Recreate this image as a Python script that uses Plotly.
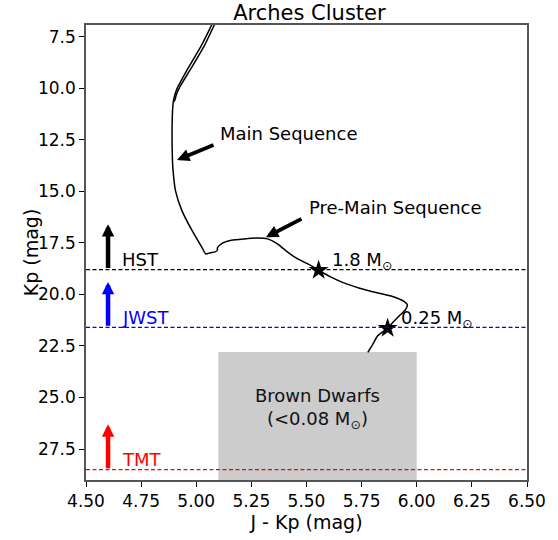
import plotly.graph_objects as go

# ---- data ----
# isochrone, from low mass (bottom) up through PMS and MS, exiting the top
iso_x = [5.778, 5.801, 5.823, 5.868, 5.890, 5.920, 5.950, 5.957, 5.942, 5.890,
         5.815, 5.741, 5.666, 5.607, 5.555, 5.517, 5.458, 5.413, 5.368, 5.323,
         5.279, 5.219, 5.159, 5.114, 5.096, 5.096, 5.085, 5.064, 5.043, 5.025,
         4.980, 4.935, 4.906, 4.894, 4.891, 4.891, 4.894, 4.898, 4.912, 4.965,
         5.023, 5.070, 5.126]
iso_y = [22.81, 22.41, 22.01, 21.64, 21.38, 21.05, 20.73, 20.50, 20.34, 20.10,
         19.91, 19.70, 19.43, 19.14, 18.83, 18.58, 18.27, 17.94, 17.55, 17.31,
         17.27, 17.31, 17.38, 17.55, 17.74, 17.86, 17.94, 17.98, 18.04, 17.71,
         16.89, 15.94, 14.98, 13.88, 13.06, 11.49, 10.85, 10.53, 10.05, 9.00,
         7.94, 6.94, 5.74]
# post-main-sequence branch returning from above the top of the plot
ret_x = [5.140, 5.082, 5.037, 4.979, 4.925, 4.909, 4.903, 4.896]
ret_y = [5.74, 6.94, 7.94, 9.00, 9.95, 10.34, 10.58, 10.67]

# marked masses
star_x = [5.555, 5.868]
star_y = [18.83, 21.64]
star_labels = ["1.8 M<sub>⊙</sub>", "0.25 M<sub>⊙</sub>"]

# telescope detection limits
tel_names = ["HST", "JWST", "TMT"]
tel_limits = [18.8, 21.6, 28.5]
tel_colors = ["black", "blue", "red"]

# brown dwarf region
bd_x = [5.1, 6.0]
bd_y = [22.8, 29.0]

x_ticks = [4.50, 4.75, 5.00, 5.25, 5.50, 5.75, 6.00, 6.25, 6.50]
y_ticks = [7.5, 10.0, 12.5, 15.0, 17.5, 20.0, 22.5, 25.0, 27.5]
x_range = [4.5, 6.5]
y_range = [29.0, 6.94]

FONT = "DejaVu Sans"

fig = go.Figure()

fig.add_shape(type="rect", x0=bd_x[0], x1=bd_x[1], y0=bd_y[0], y1=bd_y[1],
              xref="x", yref="y", fillcolor="#cccccc", line_width=0, layer="below")

fig.add_trace(go.Scatter(x=iso_x, y=iso_y, mode="lines",
                         line=dict(color="black", width=1.5, shape="spline", smoothing=0.6),
                         hoverinfo="skip", showlegend=False))
fig.add_trace(go.Scatter(x=ret_x, y=ret_y, mode="lines",
                         line=dict(color="black", width=1.5, shape="spline", smoothing=0.6),
                         hoverinfo="skip", showlegend=False))

for name, lim, col in zip(tel_names, tel_limits, tel_colors):
    fig.add_shape(type="line", x0=x_range[0], x1=x_range[1], y0=lim, y1=lim,
                  xref="x", yref="y", line=dict(color=col, width=1.2, dash="4px,2.5px"))
    fig.add_annotation(x=4.6, y=lim - 2.2, ax=4.6, ay=lim, axref="x", ayref="y",
                       xref="x", yref="y", text="", showarrow=True,
                       arrowhead=2, arrowsize=0.55, arrowwidth=4.5, arrowcolor=col)
    fig.add_annotation(x=4.655, y=lim - 0.48, xref="x", yref="y", text=name,
                       showarrow=False, xanchor="left", yanchor="middle",
                       font=dict(family=FONT, size=18, color=col))

fig.add_trace(go.Scatter(x=star_x, y=star_y, mode="markers",
                         marker=dict(symbol="star", size=15, color="black",
                                     line=dict(width=0)),
                         hoverinfo="skip", showlegend=False))
for sx, sy, lab in zip(star_x, star_y, star_labels):
    fig.add_annotation(x=sx + 0.05, y=sy - 0.47, xref="x", yref="y", text=lab,
                       showarrow=False, xanchor="left", yanchor="middle",
                       font=dict(family=FONT, size=18, color="black"))

# phase annotations
fig.add_annotation(x=4.913, y=13.48, ax=5.085, ay=12.73, axref="x", ayref="y",
                   xref="x", yref="y", text="", showarrow=True,
                   arrowhead=2, arrowsize=0.65, arrowwidth=3.8, arrowcolor="black")
fig.add_annotation(x=5.100, y=12.2, xref="x", yref="y", text="Main Sequence",
                   showarrow=False, xanchor="left", yanchor="middle",
                   font=dict(family=FONT, size=18, color="black"))
fig.add_annotation(x=5.316, y=17.23, ax=5.484, ay=16.30, axref="x", ayref="y",
                   xref="x", yref="y", text="", showarrow=True,
                   arrowhead=2, arrowsize=0.65, arrowwidth=3.8, arrowcolor="black")
fig.add_annotation(x=5.502, y=15.78, xref="x", yref="y", text="Pre-Main Sequence",
                   showarrow=False, xanchor="left", yanchor="middle",
                   font=dict(family=FONT, size=18, color="black"))

fig.add_annotation(x=(bd_x[0] + bd_x[1]) / 2, y=25.55, xref="x", yref="y",
                   text="Brown Dwarfs<br>(&lt;0.08 M<sub>⊙</sub>)",
                   showarrow=False, xanchor="center", yanchor="middle",
                   font=dict(family=FONT, size=18, color="#111111"))

# y-axis title placed as a rotated annotation
fig.add_annotation(x=-56 / 447, y=0.5, xref="paper", yref="paper",
                   text="Kp (mag)", textangle=-90, showarrow=False,
                   xanchor="center", yanchor="middle",
                   font=dict(family=FONT, size=19, color="black"))

fig.update_layout(
    width=558, height=540,
    margin=dict(l=86, r=25, t=25, b=54),
    paper_bgcolor="white", plot_bgcolor="white",
    font=dict(family=FONT, size=17, color="black"),
    title=dict(text="Arches Cluster", x=0.5545, xanchor="center",
               y=1 - 13 / 540, yanchor="middle", yref="container",
               font=dict(family=FONT, size=21, color="black")),
    showlegend=False,
)
fig.update_xaxes(range=x_range, tickvals=x_ticks, tickformat=".2f",
                 ticks="outside", ticklen=5, tickwidth=1, tickcolor="black",
                 showgrid=False, zeroline=False,
                 showline=True, linecolor="#555555", linewidth=1.5, mirror=True,
                 tickfont=dict(family=FONT, size=17),
                 title=dict(text="J - Kp (mag)", standoff=4,
                            font=dict(family=FONT, size=19)))
fig.update_yaxes(range=y_range, tickvals=y_ticks, tickformat=".1f",
                 ticks="outside", ticklen=5, tickwidth=1, tickcolor="black",
                 showgrid=False, zeroline=False,
                 showline=True, linecolor="#555555", linewidth=1.5, mirror=True,
                 tickfont=dict(family=FONT, size=17))

fig.write_html("out.html")
